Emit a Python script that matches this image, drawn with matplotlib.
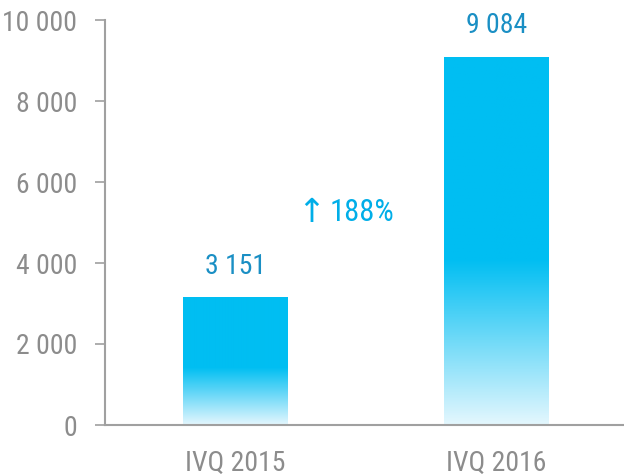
import numpy as np
import matplotlib
matplotlib.use("Agg")
import matplotlib.pyplot as plt
from matplotlib.colors import LinearSegmentedColormap
from matplotlib.ticker import FuncFormatter

plt.rcParams['font.family'] = ['Roboto Condensed', 'DejaVu Sans']

# Data
categories = ['IVQ 2015', 'IVQ 2016']
values = [3151, 9084]
yticks = [0, 2000, 4000, 6000, 8000, 10000]

grey = '#8c8c8c'
axis_grey = '#a0a0a0'
cyan = '#00bef2'
label_blue = '#1a8fc4'

def space_fmt(v, pos=None):
    return f"{int(round(v)):,}".replace(',', ' ')

fig = plt.figure(figsize=(6.24, 4.76), dpi=100)
ax = fig.add_axes([105/624, 1 - 425/476, 1 - 105/624, 405/476])

# gradient: light at the bottom, solid cyan from ~45% of bar height up
cmap = LinearSegmentedColormap.from_list(
    'bar', [(0.0, '#e4f7fe'), (0.45, cyan), (1.0, cyan)])
grad = np.linspace(0, 1, 256).reshape(-1, 1)

x = np.arange(len(categories))
width = 0.40
bars = ax.bar(x, values, width=width, color='none', edgecolor='none')
for b in bars:
    x0, w, h = b.get_x(), b.get_width(), b.get_height()
    ax.imshow(grad, cmap=cmap, origin='lower', aspect='auto',
              extent=(x0, x0 + w, 0, h), zorder=2)
    ax.text(x0 + w / 2, h + 440, space_fmt(h), ha='center', va='bottom',
            color=label_blue, fontsize=20)

# growth annotation
growth = (values[1] / values[0] - 1) * 100
ax.text(0.29, 5235, "\u2191", ha='center', va='center', color='#00aee8',
        fontsize=24, family=['DejaVu Sans'])
ax.text(0.36, 5235, f"{growth:.0f}%", ha='left', va='center',
        color='#00aee8', fontsize=22)

ax.set_xlim(-0.5, 1.49)
ax.set_ylim(0, 10000)
ax.set_yticks(yticks)
ax.yaxis.set_major_formatter(FuncFormatter(space_fmt))
ax.set_xticks(x)
ax.set_xticklabels(categories)

for s in ['top', 'right']:
    ax.spines[s].set_visible(False)
for s in ['left', 'bottom']:
    ax.spines[s].set_color(axis_grey)
    ax.spines[s].set_linewidth(1.5)

ax.tick_params(axis='y', colors=axis_grey, labelcolor=grey, length=7,
               width=1.2, pad=13, labelsize=20)
ax.tick_params(axis='x', length=0, pad=18, labelcolor=grey, labelsize=20)

fig.savefig('out.png', dpi=100)
